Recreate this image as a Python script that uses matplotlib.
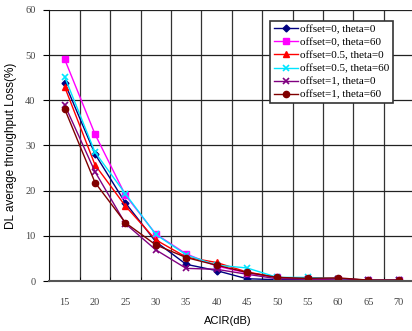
import numpy as np
import matplotlib.pyplot as plt
from matplotlib.ticker import MultipleLocator

# ACIR values (dB)
acir = [15, 20, 25, 30, 35, 40, 45, 50, 55, 60, 65, 70]

# DL average throughput loss (%) per scenario
off0_th0 = [43.9, 28.1, 17.3, 8.7, 3.7, 2.3, 0.5, 0.3, 0.3, 0.4, 0.1, 0.1]
off0_th60 = [49.1, 32.5, 19.0, 10.4, 6.0, 3.3, 1.8, 0.8, 0.5, 0.5, 0.2, 0.2]
off05_th0 = [43.0, 25.7, 16.6, 9.1, 5.3, 4.1, 2.0, 0.8, 0.5, 0.5, 0.2, 0.2]
off05_th60 = [45.2, 28.5, 19.3, 10.3, 5.8, 3.5, 2.9, 0.8, 0.8, 0.5, 0.2, 0.2]
off1_th0 = [39.0, 24.2, 12.7, 6.9, 2.8, 2.6, 1.5, 0.5, 0.4, 0.5, 0.2, 0.2]
off1_th60 = [38.1, 21.8, 12.9, 8.0, 5.2, 3.5, 1.9, 0.8, 0.6, 0.7, 0.2, 0.2]

labels = ['offset=0, theta=0', 'offset=0, theta=60', 'offset=0.5, theta=0',
          'offset=0.5, theta=60', 'offset=1, theta=0', 'offset=1, theta=60']

fig = plt.figure(figsize=(4.12, 3.31), dpi=100)
ax = fig.add_axes([0.120, 0.151, 0.885, 0.819])

ax.plot(acir, off0_th0, color='#000080', marker='D', ms=3.5, lw=1, label=labels[0])
ax.plot(acir, off0_th60, color='#FF00FF', marker='s', ms=4.5, lw=1, label=labels[1])
ax.plot(acir, off05_th0, color='#FF0000', marker='^', ms=5, lw=1, label=labels[2])
ax.plot(acir, off05_th60, color='#00E5FF', marker='x', ms=5, mew=1.2, lw=1, label=labels[3])
ax.plot(acir, off1_th0, color='#800080', marker='x', ms=5, mew=1.2, lw=1, label=labels[4])
ax.plot(acir, off1_th60, color='#800000', marker='o', ms=4.5, lw=1, label=labels[5])

ax.set_xlim(12.5, 72.5)
ax.set_ylim(0, 60)
ax.set_xticks(acir)
ax.set_xticks(np.arange(17.5, 72.5, 5), minor=True)
ax.yaxis.set_major_locator(MultipleLocator(10))

ax.grid(axis='y', which='major', color='#222222', lw=0.9)
ax.grid(axis='x', which='minor', color='#333333', lw=0.9)
ax.set_axisbelow(True)

ax.tick_params(axis='x', which='major', length=0, pad=12, labelsize=7.5, labelcolor='#444444')
ax.tick_params(axis='x', which='minor', length=3, direction='in')
ax.tick_params(axis='y', which='major', length=4, direction='out', pad=6,
               labelsize=7.5, labelcolor='#444444')
for lab in ax.get_xticklabels() + ax.get_yticklabels():
    lab.set_family('Liberation Serif')

for s in ['top', 'right']:
    ax.spines[s].set_visible(False)
ax.spines['left'].set_color('#111111')
ax.spines['bottom'].set_color('#555555')
ax.spines['bottom'].set_linewidth(1.5)

ax.set_xlabel('ACIR(dB)', family='Liberation Sans', fontsize=8)
ax.set_ylabel('DL average throughput Loss(%)', family='Liberation Sans', fontsize=8.5, labelpad=6)
ax.xaxis.set_label_coords(0.49, -0.128)

leg = ax.legend(loc='upper right', bbox_to_anchor=(0.942, 0.959), fancybox=False, framealpha=1,
                edgecolor='#333333', prop={'family': 'Liberation Serif', 'size': 8},
                handlelength=2.2, handletextpad=0.2, labelspacing=0.3, borderpad=0.3,
                borderaxespad=0)
leg.get_frame().set_linewidth(1.2)

fig.savefig('out.png', dpi=100)
